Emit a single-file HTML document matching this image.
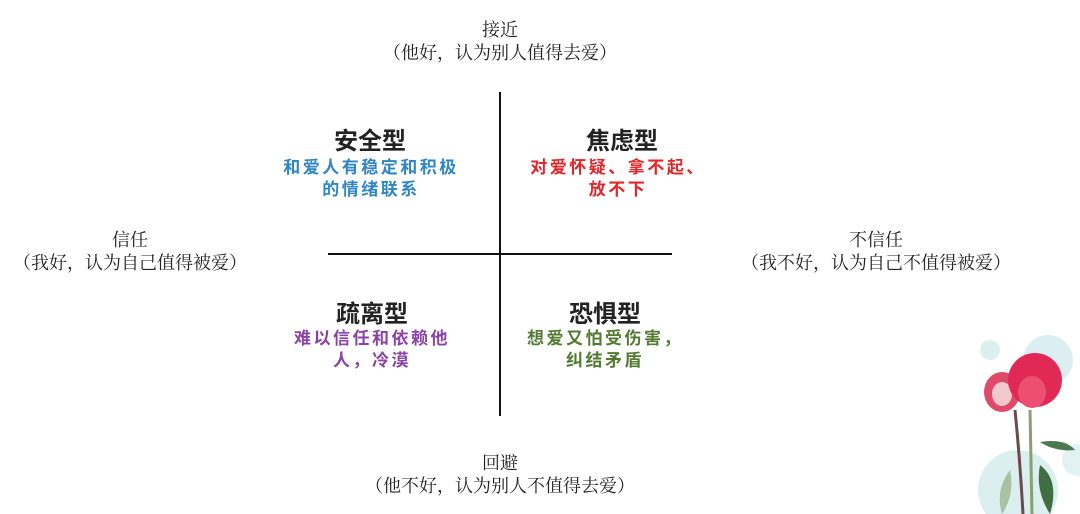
<!DOCTYPE html>
<html><head><meta charset="utf-8"><style>
body{margin:0;width:1080px;height:514px;background:#fff;position:relative;overflow:hidden;font-family:"Liberation Serif","Noto Serif CJK SC",serif;color:#222}
.t{position:absolute;white-space:nowrap;transform:translateX(-50%);text-align:center;font-size:18px;line-height:22px}
.h{position:absolute;white-space:nowrap;transform:translateX(-50%);font-family:"Liberation Sans","Noto Sans CJK SC",sans-serif;font-weight:bold;font-size:24px;color:#222}
.s{position:absolute;transform:translateX(-50%);text-align:center;font-family:"Liberation Sans","Noto Sans CJK SC",sans-serif;font-weight:bold;font-size:17px;line-height:22px;white-space:nowrap;letter-spacing:2.5px}
</style></head><body>
<div style="position:absolute;left:499px;top:92px;width:2px;height:324px;background:#111"></div>
<div style="position:absolute;left:328px;top:253px;width:344px;height:2px;background:#111"></div>

<div class="t" style="left:500px;top:19px">接近</div>
<div class="t" style="left:500px;top:42px">（他好，认为别人值得去爱）</div>
<div class="t" style="left:130px;top:229px">信任</div>
<div class="t" style="left:130px;top:252px">（我好，认为自己值得被爱）</div>
<div class="t" style="left:876px;top:229px">不信任</div>
<div class="t" style="left:876px;top:252px">（我不好，认为自己不值得被爱）</div>
<div class="t" style="left:500px;top:452px">回避</div>
<div class="t" style="left:500px;top:475px">（他不好，认为别人不值得去爱）</div>

<div class="h" style="left:370px;top:121px">安全型</div>
<div class="s" style="left:371px;top:157px;color:#2f86c4">和爱人有稳定和积极<br>的情绪联系</div>
<div class="h" style="left:622px;top:121px">焦虑型</div>
<div class="s" style="left:618px;top:157px;color:#e3262b">对爱怀疑、拿不起、<br>放不下</div>
<div class="h" style="left:372px;top:294px">疏离型</div>
<div class="s" style="left:372px;top:328px;color:#8a44a8">难以信任和依赖他<br>人，冷漠</div>
<div class="h" style="left:605px;top:294px">恐惧型</div>
<div class="s" style="left:605px;top:328px;color:#537a32">想爱又怕受伤害，<br>纠结矛盾</div>

<svg style="position:absolute;left:940px;top:320px" width="140" height="194">
<circle cx="50" cy="30" r="10" fill="#dcefef"/>
<circle cx="108" cy="40" r="25" fill="#dbeef2"/>
<circle cx="78" cy="170" r="40" fill="#dbeef0"/>
<circle cx="138" cy="140" r="16" fill="#e2f1f2"/>
<path d="M75 90 Q80 140 83 194" stroke="#6b4a4a" stroke-width="3" fill="none"/>
<path d="M90 90 L92 194" stroke="#8aa070" stroke-width="3" fill="none"/>
<path d="M100 145 Q120 160 110 194 Q95 170 100 145Z" fill="#3f6e43"/>
<path d="M100 122 Q125 118 135 130 Q115 132 100 122Z" fill="#4c7a50"/>
<path d="M70 150 Q55 170 62 194 Q75 175 70 150Z" fill="#a9c2a2"/>
<ellipse cx="62" cy="72" rx="18" ry="20" fill="#e04a6a"/>
<ellipse cx="62" cy="74" rx="10" ry="12" fill="#f1c9cc"/>
<ellipse cx="95" cy="60" rx="27" ry="27" fill="#e02a55"/>
<ellipse cx="92" cy="72" rx="14" ry="16" fill="#ec4f72"/>
</svg>
</body></html>
